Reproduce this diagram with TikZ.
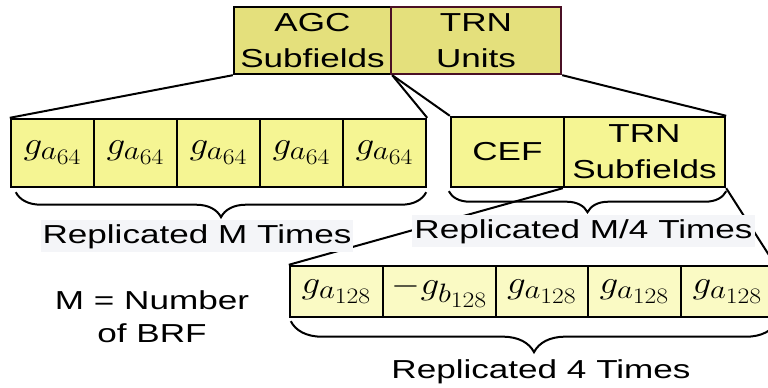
\documentclass[tikz,border=0pt]{standalone}
\usepackage{fix-cm}
\usepackage[no-math]{fontspec}
\setmainfont{Liberation Sans}
\usepackage{graphicx}
\usetikzlibrary{decorations.pathreplacing}
\DeclareMathSizes{32}{32}{26.6}{22.1}

\definecolor{topfill}{HTML}{E4E07C}
\definecolor{cellfill}{HTML}{F5F593}
\definecolor{lowfill}{HTML}{FAFAC4}
\definecolor{labelbg}{HTML}{F4F5F8}
\definecolor{unitedge}{HTML}{4A1025}

% wide lettering
\newcommand{\wx}[1]{\scalebox{1.35}[1]{#1}}
\newcommand{\wm}[1]{\scalebox{1.16}[1]{$#1$}}

\begin{document}
\begin{tikzpicture}[x=1pt,y=-1pt,
  txt/.style={font=\fontsize{26}{36}\selectfont, align=center},
  field/.style={txt, draw=black, line width=2.4pt, fill=topfill, inner sep=0pt},
  agcell/.style={draw=black, line width=2.4pt, fill=cellfill, inner sep=0pt,
    minimum width=83, minimum height=68, font=\fontsize{32}{36}\selectfont},
  cefcell/.style={txt, draw=black, line width=2.4pt, fill=cellfill, inner sep=0pt,
    minimum height=70},
  trncell/.style={draw=black, line width=2.4pt, fill=lowfill, inner sep=0pt,
    minimum height=51, font=\fontsize{32}{36}\selectfont},
  link/.style={draw=black, line width=2pt},
  curly/.style={draw=black, line width=2pt, decorate},
  tag/.style={txt, fill=labelbg, inner xsep=2pt, inner ysep=4pt}]

\useasboundingbox (0,0) rectangle (768,388);
\clip (0,0) rectangle (768,388);

% top level fields
\node[field, minimum width=157, minimum height=67] (agc) at (312.5,40.5)
  {\wx{AGC}\\\wx{Subfields}};
\node[field, draw=unitedge, minimum width=170, minimum height=67] (trnu) at (476,40.5)
  {\wx{TRN}\\\wx{Units}};

% AGC subfields
\foreach \i/\cx in {1/52.5,2/135.5,3/218.5,4/301.5,5/384.5}
  \node[agcell] (a\i) at (\cx,153) {\wm{g_{a_{64}}}};

% TRN unit
\node[cefcell, minimum width=113] (cef) at (507.5,152) {\wx{CEF}};
\node[cefcell, minimum width=161] (trns) at (644.5,152) {\wx{TRN}\\\wx{Subfields}};

% TRN subfields
\node[trncell, minimum width=93]  (b1) at (336.5,291.5) {\wm{g_{a_{128}}}};
\node[trncell, minimum width=113] (b2) at (439.5,291.5) {\wm{-g_{b_{128}}}};
\node[trncell, minimum width=92]  (b3) at (542,291.5)   {\wm{g_{a_{128}}}};
\node[trncell, minimum width=93]  (b4) at (634.5,291.5) {\wm{g_{a_{128}}}};
\node[trncell, minimum width=93]  (b5) at (727.5,291.5) {\wm{g_{a_{128}}}};

% expansion lines
\draw[link] (agc.south west) -- (a1.north west);
\draw[link] (agc.south east) -- (a5.north east);
\draw[link] (agc.south east) -- (cef.north west);
\draw[link] (trnu.south east) -- (trns.north east);
\draw[link] (trns.south west) -- (b1.north west);
\draw[link] (trns.south east) -- (b5.north east);

% braces
\draw[curly, decoration={brace, mirror, amplitude=25pt}]
  ([shift={(6,4)}]a1.south west) -- ([shift={(-1,4)}]a5.south east);
\draw[curly, decoration={brace, mirror, amplitude=21pt}]
  ([shift={(-1,3)}]cef.south west) -- ([shift={(0,3)}]trns.south east);
\draw[curly, decoration={brace, mirror, amplitude=31pt}]
  ([shift={(2,3)}]b1.south west) -- ([shift={(2,3)}]b5.south east);

% labels
\node[tag, anchor=base] (repM) at (197,243) {\wx{Replicated M Times}};
\node[tag, anchor=base] (repM4) at (583.5,238) {\wx{Replicated M/4 Times}};
\node[txt, anchor=base] (rep4) at (541,378) {\wx{Replicated 4 Times}};
\node[txt, font=\fontsize{26}{33}\selectfont] (note) at (152,317)
  {\wx{M = Number}\\\wx{of BRF}};
\end{tikzpicture}
\end{document}
